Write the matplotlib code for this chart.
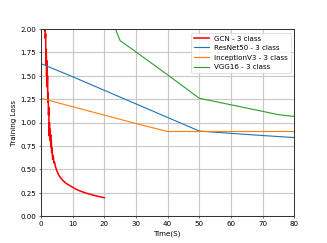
import matplotlib
matplotlib.use("Agg")
import matplotlib.pyplot as plt

gcn_t = [1.0, 1.2, 1.3, 1.4, 1.5, 1.6, 1.7, 1.8, 1.9, 2.0, 2.1, 2.2, 2.3, 2.4, 2.5, 2.6, 2.7, 2.8, 2.9, 3.0,
         3.1, 3.2, 3.3, 3.4, 3.5, 3.7, 3.9, 4.1, 4.3, 4.6, 5.0, 5.5, 6.0, 6.5, 7.0, 8.0, 9.0, 10.0, 11.0,
         12.0, 13.0, 14.0, 15.0, 16.0, 17.0, 18.0, 19.0, 20.0]
gcn_loss = [2.08, 1.98, 2.05, 1.9, 1.95, 1.62, 1.78, 1.5, 1.66, 1.38, 1.5, 1.22, 1.32, 1.08, 1.16, 0.86, 1.0,
            0.84, 0.93, 0.8, 0.87, 0.74, 0.8, 0.68, 0.73, 0.61, 0.65, 0.57, 0.58, 0.53, 0.49, 0.45,
            0.42, 0.40, 0.38, 0.35, 0.33, 0.31, 0.29, 0.275, 0.262, 0.25, 0.24, 0.23, 0.221, 0.213,
            0.206, 0.198]

resnet_t = [0, 10, 20, 30, 40, 50, 60, 70, 80]
resnet_loss = [1.63, 1.49, 1.345, 1.20, 1.055, 0.91, 0.885, 0.862, 0.84]

incep_t = [0, 10, 20, 30, 40, 50, 60, 70, 80]
incep_loss = [1.26, 1.17, 1.08, 0.99, 0.905, 0.905, 0.905, 0.905, 0.905]

vgg_t = [20, 25, 30, 40, 50, 60, 70, 75, 80]
vgg_loss = [2.3, 1.875, 1.755, 1.51, 1.26, 1.19, 1.12, 1.085, 1.065]

fig = plt.figure(figsize=(6.4, 4.76), dpi=51.1)
ax = fig.add_subplot(111)
ax.plot(gcn_t, gcn_loss, color="red", lw=2.2, label="GCN - 3 class")
ax.plot(resnet_t, resnet_loss, color="#1f77b4", lw=1.6, label="ResNet50 - 3 class")
ax.plot(incep_t, incep_loss, color="#ff7f0e", lw=1.6, label="InceptionV3 - 3 class")
ax.plot(vgg_t, vgg_loss, color="#2ca02c", lw=1.6, label="VGG16 - 3 class")
ax.set_xlim(0, 80)
ax.set_ylim(0, 2.0)
ax.set_xticks(range(0, 81, 10))
ax.set_yticks([0, 0.25, 0.5, 0.75, 1.0, 1.25, 1.5, 1.75, 2.0])
ax.set_yticklabels(["0.00", "0.25", "0.50", "0.75", "1.00", "1.25", "1.50", "1.75", "2.00"])
ax.grid(True, color="#c8c8c8", lw=1.6)
ax.set_axisbelow(True)
for s in ax.spines.values():
    s.set_linewidth(1.4)
    s.set_color("#333333")
ax.set_xlabel("Time(S)")
ax.set_ylabel("Training Loss")
ax.legend(loc="upper right")
fig.savefig("out.png", dpi=51.1)
